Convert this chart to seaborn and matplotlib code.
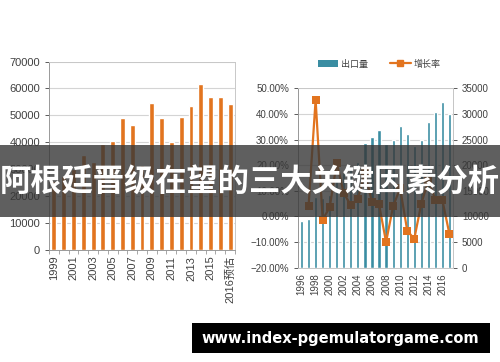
import matplotlib
matplotlib.use('Agg')
import matplotlib.pyplot as plt
import seaborn as sns
import numpy as np
import pandas as pd
from matplotlib.patches import Rectangle, Patch
from matplotlib.lines import Line2D
from matplotlib.ticker import PercentFormatter, FixedLocator

# left chart: yearly volume
left_years = ['1999', '2000', '2001', '2002', '2003', '2004', '2005', '2006', '2007', '2008',
              '2009', '2010', '2011', '2012', '2013', '2014', '2015', '2016', '2016预估']
left_values = [25500, 27500, 30000, 35300, 32800, 39300, 40600, 48900, 46400, 31500,
               54700, 49100, 40200, 49400, 53500, 61500, 56900, 57000, 54100]

# right chart: export volume (right axis) and growth rate (left axis)
right_years = [str(y) for y in range(1996, 2018)]
export_values = [9100, 9450, 13750, 13600, 14100, 17000, 18500, 19300, 20700, 24300, 25600,
                 26800, 24100, 24900, 27700, 26100, 23800, 24900, 28500, 30400, 32300, 30000]
rate_years = [str(y) for y in range(1997, 2018)]
rate_values = [4.0, 45.5, -1.2, 3.5, 21.0, 9.0, 4.4, 7.0, 17.0, 5.5, 4.7,
               -10.0, 4.0, 11.0, -5.5, -8.8, 5.0, 14.0, 6.5, 6.3, -7.0]

title_text = '阿根廷晋级在望的三大关键因素分析'
site_text = 'www.index-pgemulatorgame.com'

sns.set_style('white')
plt.rcParams['font.family'] = ['Liberation Sans', 'Noto Sans CJK SC']

orange = '#E2741F'
teal = '#3A8DA2'
grid_c = '#D4D4D4'
txt_c = '#404040'

fig = plt.figure(figsize=(5.0, 3.62), dpi=100)
fig.patch.set_facecolor('white')

# ---- left chart
ax1 = fig.add_axes([0.098, 0.309, 0.372, 0.521])
df_left = pd.DataFrame({'year': left_years, 'value': left_values})
sns.barplot(data=df_left, x='year', y='value', color=orange, width=0.5,
            saturation=1, ax=ax1, zorder=3)
ax1.set_ylim(0, 70000)
ax1.set_yticks(range(0, 70001, 10000))
ax1.set_xlim(-0.5, len(left_years) - 0.5)
ax1.set_xticks(range(0, len(left_years), 2))
ax1.set_xticklabels(left_years[::2], rotation=90)
ax1.xaxis.set_minor_locator(FixedLocator(np.arange(-0.5, len(left_years), 1)))
ax1.grid(axis='y', color=grid_c, lw=0.8, zorder=0)
ax1.set_xlabel('')
ax1.set_ylabel('')
ax1.tick_params(axis='y', labelsize=8, colors=txt_c, length=3, left=True, width=0.6)
ax1.tick_params(axis='x', labelsize=8, colors=txt_c, length=0, pad=4)
ax1.tick_params(axis='x', which='minor', length=3, bottom=True, color='#999999', width=0.6)
for s in ax1.spines.values():
    s.set_color('#C8C8C8')
    s.set_linewidth(0.7)
ax1.spines['left'].set_color('#999999')
ax1.spines['bottom'].set_color('#999999')

# ---- right chart
ax2 = fig.add_axes([0.596, 0.2605, 0.31, 0.4955])
ax3 = ax2.twinx()
df_exp = pd.DataFrame({'year': right_years, 'value': export_values})
sns.barplot(data=df_exp, x='year', y='value', color=teal, width=0.45,
            saturation=1, ax=ax3, zorder=3)
ax3.set_ylim(0, 35000)
ax3.set_yticks(range(0, 35001, 5000))
ax3.set_ylabel('')
ax3.set_xlabel('')

rate_x = [right_years.index(y) for y in rate_years]
df_rate = pd.DataFrame({'x': rate_x, 'rate': rate_values})
sns.lineplot(data=df_rate, x='x', y='rate', color=orange, lw=1.6, marker='s',
             markersize=5.5, markeredgewidth=0, ax=ax2, zorder=5)
ax2.set_zorder(ax3.get_zorder() + 1)
ax2.patch.set_visible(False)
ax2.set_ylim(-20, 50)
ax2.set_yticks(range(-20, 51, 10))
ax2.yaxis.set_major_formatter(PercentFormatter(decimals=2))
ax2.set_xlim(-0.5, len(right_years) - 0.5)
ax2.set_xticks(range(0, len(right_years), 2))
ax2.set_xticklabels(right_years[::2], rotation=90)
ax2.set_xlabel('')
ax2.set_ylabel('')
ax3.grid(axis='y', color=grid_c, lw=0.8, zorder=0)
ax2.tick_params(axis='y', labelsize=7, colors=txt_c, length=3, left=True, width=0.6)
ax2.tick_params(axis='x', labelsize=7, colors=txt_c, length=0, pad=4)
ax3.tick_params(axis='y', labelsize=7, colors=txt_c, length=3, right=True, width=0.6)
for a in (ax2, ax3):
    for s in a.spines.values():
        s.set_color('#C8C8C8')
        s.set_linewidth(0.7)
ax2.spines['left'].set_color('#999999')
ax3.spines['right'].set_color('#999999')

handles = [Patch(facecolor=teal, edgecolor='none'),
           Line2D([], [], color=orange, lw=1.6, marker='s', markersize=5)]
fig.legend(handles, ['出口量', '增长率'], loc='center', bbox_to_anchor=(0.758, 0.823),
           ncol=2, frameon=False, fontsize=6.5, handlelength=2.3, handletextpad=0.3,
           columnspacing=2.4, labelcolor=txt_c)

# ---- banner overlay
fig.patches.append(Rectangle((0, 0.4006), 1, 0.1988, transform=fig.transFigure,
                             facecolor='#373737', alpha=0.8, edgecolor='none', zorder=10))
fig.text(0.5, 0.4945, title_text, ha='center', va='center', color='white',
         fontsize=22.5, fontweight='bold', family=['Noto Sans CJK SC'], zorder=11)

# ---- site watermark
fig.patches.append(Rectangle((0.383, 0.0257), 0.597, 0.0813, transform=fig.transFigure,
                             facecolor='black', edgecolor='none', zorder=10))
fig.text(0.68, 0.066, site_text, ha='center', va='center', color='white',
         fontsize=10.5, fontweight='bold', family=['DejaVu Sans'], zorder=11)

fig.savefig('out.png', dpi=100)
